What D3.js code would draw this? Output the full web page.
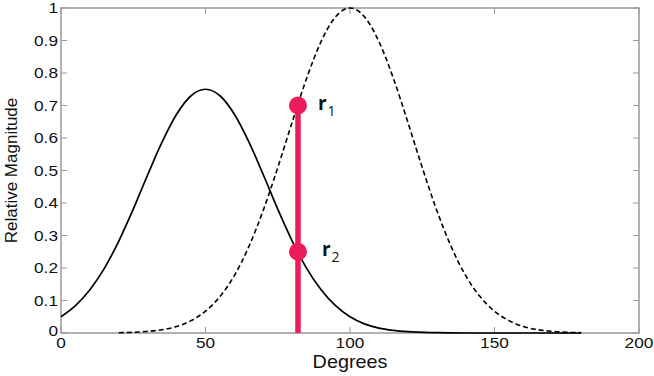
<!DOCTYPE html>
<html lang="en">
<head>
  <meta charset="UTF-8">
  <title>Relative Magnitude</title>
  <script src="https://d3js.org/d3.v7.min.js"></script>
  <style>
    body { margin: 0; background: #fff; }
    svg { display: block; font-family: "Liberation Sans", Arial, sans-serif; }
  </style>
</head>
<body>
  <div id="chart"></div>
  <script>
    // values
    var degreesA = [0, 5, 10, 15, 20, 25, 30, 35, 40, 45, 50, 55, 60, 65, 70, 75, 80, 85, 90, 95, 100, 105, 110, 115, 120, 130, 140, 160, 180];
    var solidVals = [0.050, 0.084, 0.133, 0.199, 0.283, 0.381, 0.487, 0.588, 0.673, 0.730, 0.750, 0.730, 0.673, 0.588, 0.487, 0.381, 0.283, 0.199, 0.133, 0.084, 0.050, 0.028, 0.015, 0.008, 0.004, 0.001, 0.000, 0.000, 0.000];
    var degreesB = [20, 25, 30, 35, 40, 45, 50, 55, 60, 65, 70, 75, 80, 85, 90, 95, 100, 105, 110, 115, 120, 125, 130, 135, 140, 145, 150, 155, 160, 165, 170, 175, 180];
    var dashedVals = [0.001, 0.002, 0.005, 0.010, 0.020, 0.038, 0.067, 0.112, 0.177, 0.266, 0.378, 0.509, 0.649, 0.784, 0.897, 0.973, 1.000, 0.973, 0.897, 0.784, 0.649, 0.509, 0.378, 0.266, 0.177, 0.112, 0.067, 0.038, 0.020, 0.010, 0.005, 0.002, 0.001];
    var xTicks = [0, 50, 100, 150, 200];
    var yTicks = [0, 0.1, 0.2, 0.3, 0.4, 0.5, 0.6, 0.7, 0.8, 0.9, 1];
    var markerX = 82;
    var markerVals = [0.70, 0.25];
    var markerLabels = ["1", "2"];

    var width = 654, height = 376;
    var margin = { top: 8, right: 15, bottom: 43, left: 61 };

    var svg = d3.select("#chart").append("svg")
      .attr("width", width)
      .attr("height", height);

    var x = d3.scaleLinear().domain([0, 200]).range([margin.left, width - margin.right]);
    var y = d3.scaleLinear().domain([0, 1]).range([height - margin.bottom, margin.top]);

    var gray = "#999";

    // frame
    svg.append("rect")
      .attr("x", x(0)).attr("y", y(1))
      .attr("width", x(200) - x(0)).attr("height", y(0) - y(1))
      .attr("fill", "none").attr("stroke", gray).attr("stroke-width", 1.5);

    // inward ticks on all four sides
    var tk = 6;
    xTicks.forEach(function (t) {
      svg.append("line").attr("x1", x(t)).attr("x2", x(t)).attr("y1", y(0)).attr("y2", y(0) - tk).attr("stroke", gray);
      svg.append("line").attr("x1", x(t)).attr("x2", x(t)).attr("y1", y(1)).attr("y2", y(1) + tk).attr("stroke", gray);
    });
    yTicks.forEach(function (t) {
      svg.append("line").attr("x1", x(0)).attr("x2", x(0) + tk).attr("y1", y(t)).attr("y2", y(t)).attr("stroke", gray);
      svg.append("line").attr("x1", x(200)).attr("x2", x(200) - tk).attr("y1", y(t)).attr("y2", y(t)).attr("stroke", gray);
    });

    // tick labels (the original font is a bit wider, so stretch slightly)
    svg.selectAll(".xl").data(xTicks).enter().append("text")
      .attr("transform", d => "translate(" + x(d) + "," + (y(0) + 15) + ") scale(1.15,1)")
      .attr("text-anchor", "middle").attr("font-size", 15).attr("fill", "#111")
      .text(d => d);
    svg.selectAll(".yl").data(yTicks).enter().append("text")
      .attr("transform", d => "translate(" + (x(0) - 3) + "," + (y(d) + (d === 0 ? 3 : 5)) + ") scale(1.15,1)")
      .attr("text-anchor", "end").attr("font-size", 15).attr("fill", "#111")
      .text(d => d3.format("")(d));

    // axis titles
    svg.append("text")
      .attr("transform", "translate(" + x(100) + "," + (height - 8) + ") scale(1.1,1)")
      .attr("text-anchor", "middle").attr("font-size", 18).attr("fill", "#111")
      .text("Degrees");
    svg.append("text")
      .attr("transform", "translate(17," + y(0.5) + ") rotate(-90)")
      .attr("text-anchor", "middle").attr("font-size", 17).attr("fill", "#111")
      .text("Relative Magnitude");

    // curves
    var line = d3.line()
      .x(d => x(d[0]))
      .y(d => y(d[1]))
      .curve(d3.curveMonotoneX);

    svg.append("path")
      .datum(d3.zip(degreesA, solidVals))
      .attr("d", line)
      .attr("fill", "none").attr("stroke", "#000").attr("stroke-width", 1.7);

    svg.append("path")
      .datum(d3.zip(degreesB, dashedVals))
      .attr("d", line)
      .attr("fill", "none").attr("stroke", "#000").attr("stroke-width", 1.6)
      .attr("stroke-dasharray", "5,3");

    // marker line and dots
    var pink = "#ec1c5b";
    svg.append("line")
      .attr("x1", x(markerX)).attr("x2", x(markerX))
      .attr("y1", y(0)).attr("y2", y(markerVals[0]))
      .attr("stroke", pink).attr("stroke-width", 5.5);

    markerVals.forEach(function (v, i) {
      svg.append("circle")
        .attr("cx", x(markerX)).attr("cy", y(v)).attr("r", 9)
        .attr("fill", pink);
      var t = svg.append("text")
        .attr("x", x(markerX) + 20 + i * 4).attr("y", y(v) + 4)
        .attr("font-size", 19).attr("font-weight", "bold").attr("fill", "#111")
        .attr("font-family", "'Open Sans', sans-serif");
      t.append("tspan").text("r");
      t.append("tspan").attr("dy", 6).attr("dx", 1).attr("font-size", 14).attr("font-weight", "normal").text(markerLabels[i]);
    });
  </script>
</body>
</html>
